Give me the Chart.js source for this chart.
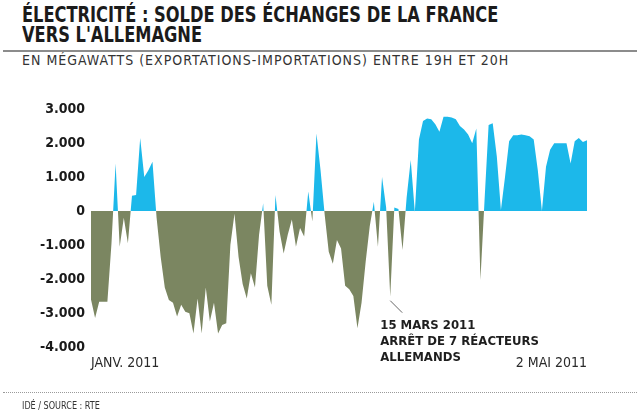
<!DOCTYPE html>
<html>
<head>
<meta charset="utf-8">
<script src="https://cdn.jsdelivr.net/npm/chart.js@4.4.0/dist/chart.umd.min.js"></script>
<style>
  body { margin: 0; width: 640px; height: 420px; background: #fff; position: relative; overflow: hidden;
         font-family: "DejaVu Sans Condensed", sans-serif; }
  #title { position: absolute; left: 22px; top: 5px; font-weight: bold; font-size: 21px; line-height: 20px; color: #1b1b1b;
           transform: scaleX(0.86); transform-origin: 0 0; white-space: nowrap; }
  #rule { position: absolute; left: 3px; right: 3px; top: 50px; border-top: 2px solid #8c8c8c; }
  #sub { position: absolute; left: 22px; top: 52px; font-size: 14px; letter-spacing: 1px; color: #333; white-space: nowrap; }
  #dots { position: absolute; left: 3px; right: 3px; top: 392px; border-top: 1px dotted #9a9a9a; }
  #src { position: absolute; left: 22px; top: 400px; font-size: 10px; color: #333; transform: scaleX(0.9); transform-origin: 0 0; }
  #wrap { position: absolute; left: 0; top: 0; width: 640px; height: 420px; }
</style>
</head>
<body>
<div id="title">ÉLECTRICITÉ : SOLDE DES ÉCHANGES DE LA FRANCE<br>VERS L'ALLEMAGNE</div>
<div id="rule"></div>
<div id="sub">EN MÉGAWATTS (EXPORTATIONS-IMPORTATIONS) ENTRE 19H ET 20H</div>
<div id="wrap"><canvas id="chart" width="640" height="420"></canvas></div>
<div id="dots"></div>
<div id="src">IDÉ / SOURCE : RTE</div>

<script>
// daily balance, 1 Jan 2011 -> 2 May 2011 (MW, exports - imports)
const netExchange = [
  -2600, -3150, -2670, -2670, -2670, -950, 1400, -1050, -200, -950,
  450, 470, 2150, 1000, 1200, 1450, -200, -1350, -2250, -2620,
  -2700, -3100, -2760, -2960, -3010, -3600, -2570, -3600, -2250, -3250,
  -2700, -3600, -3350, -3300, -1000, -80, -1350, -2150, -2570, -1830,
  -2250, -700, 225, -2200, -2760, 470, -600, -1250, -700, -250,
  -1050, -500, -750, 570, -310, 2280, 1200, -100, -1200, -1550,
  -850, -1100, -2200, -2300, -2500, -3450, -2700, -1500, -450, 270,
  -1050, 1000, 100, -2520, 100, 60, -1150, 400, 1500, -30,
  2100, 2650, 2720, 2700, 2550, 2330, 2770, 2770, 2750, 2700,
  2500, 2400, 2250, 1990, 2430, -2030, 300, 2530, 2580, 1600,
  30, 1000, 2050, 2230, 2230, 2250, 2230, 2200, 2100, 1200,
  0, 1300, 1800, 1990, 1990, 1990, 1990, 1400, 2050, 2150,
  2030, 2080
];

const firstDay = new Date(2011, 0, 1);
const days = netExchange.map((_, i) => {
  const d = new Date(firstDay);
  d.setDate(d.getDate() + i);
  return d.toISOString().slice(0, 10);
});
const xEndLabels = ['JANV. 2011', '2 MAI 2011'];

const yTicks = [-4000, -3000, -2000, -1000, 0, 1000, 2000, 3000];
const yTickLabels = ['-4.000', '-3.000', '-2.000', '-1.000', '0', '1.000', '2.000', '3.000'];

const noteIndex = 73; // 15 mars
const noteLines = ['15 MARS 2011', 'ARRÊT DE 7 RÉACTEURS', 'ALLEMANDS'];

const FONT = "'DejaVu Sans Condensed', sans-serif";
const BLUE = '#1cb8ea';
const GREEN = '#7b8661';

const notePlugin = {
  id: 'note',
  afterDraw(chart) {
    const { ctx, scales: { x, y } } = chart;
    const px = x.getPixelForValue(noteIndex);
    const py = y.getPixelForValue(netExchange[noteIndex]);
    ctx.save();
    ctx.strokeStyle = '#666';
    ctx.lineWidth = 1;
    ctx.beginPath();
    ctx.moveTo(px, py + 4);
    ctx.lineTo(px + 12, py + 16);
    ctx.stroke();
    ctx.fillStyle = '#1e1e1e';
    ctx.font = 'bold 13px ' + FONT;
    noteLines.forEach((t, k) => ctx.fillText(t, px - 10, py + 32 + k * 16));
    ctx.restore();
  }
};

new Chart(document.getElementById('chart'), {
  type: 'line',
  data: {
    labels: days,
    datasets: [{
      data: netExchange,
      borderWidth: 0,
      pointRadius: 0,
      tension: 0,
      fill: { target: 'origin', above: BLUE, below: GREEN }
    }]
  },
  options: {
    responsive: false,
    animation: false,
    layout: { padding: { top: 109, right: 53, left: 0, bottom: 0 } },
    plugins: { legend: { display: false }, tooltip: { enabled: false } },
    scales: {
      x: {
        grid: { display: false },
        border: { display: false },
        afterFit(s) { s.height = 73; },
        ticks: {
          autoSkip: false,
          maxRotation: 0,
          align: 'inner',
          padding: 0,
          color: '#2a2a2a',
          font: { family: FONT, size: 14 },
          callback(v, i) {
            if (i === 0) return xEndLabels[0];
            if (i === days.length - 1) return xEndLabels[1];
            return '';
          }
        }
      },
      y: {
        min: -4000,
        max: 3000,
        z: 1,
        afterFit(s) { s.width = 91; },
        afterBuildTicks(s) { s.ticks = yTicks.map(v => ({ value: v })); },
        grid: { color: '#ffffff', lineWidth: 1, drawTicks: false },
        border: { display: false },
        ticks: {
          padding: 6,
          color: '#1a1a1a',
          font: { family: FONT, size: 14, weight: 'bold' },
          callback(v) { return yTickLabels[yTicks.indexOf(v)]; }
        }
      }
    }
  },
  plugins: [notePlugin]
});
</script>
</body>
</html>
